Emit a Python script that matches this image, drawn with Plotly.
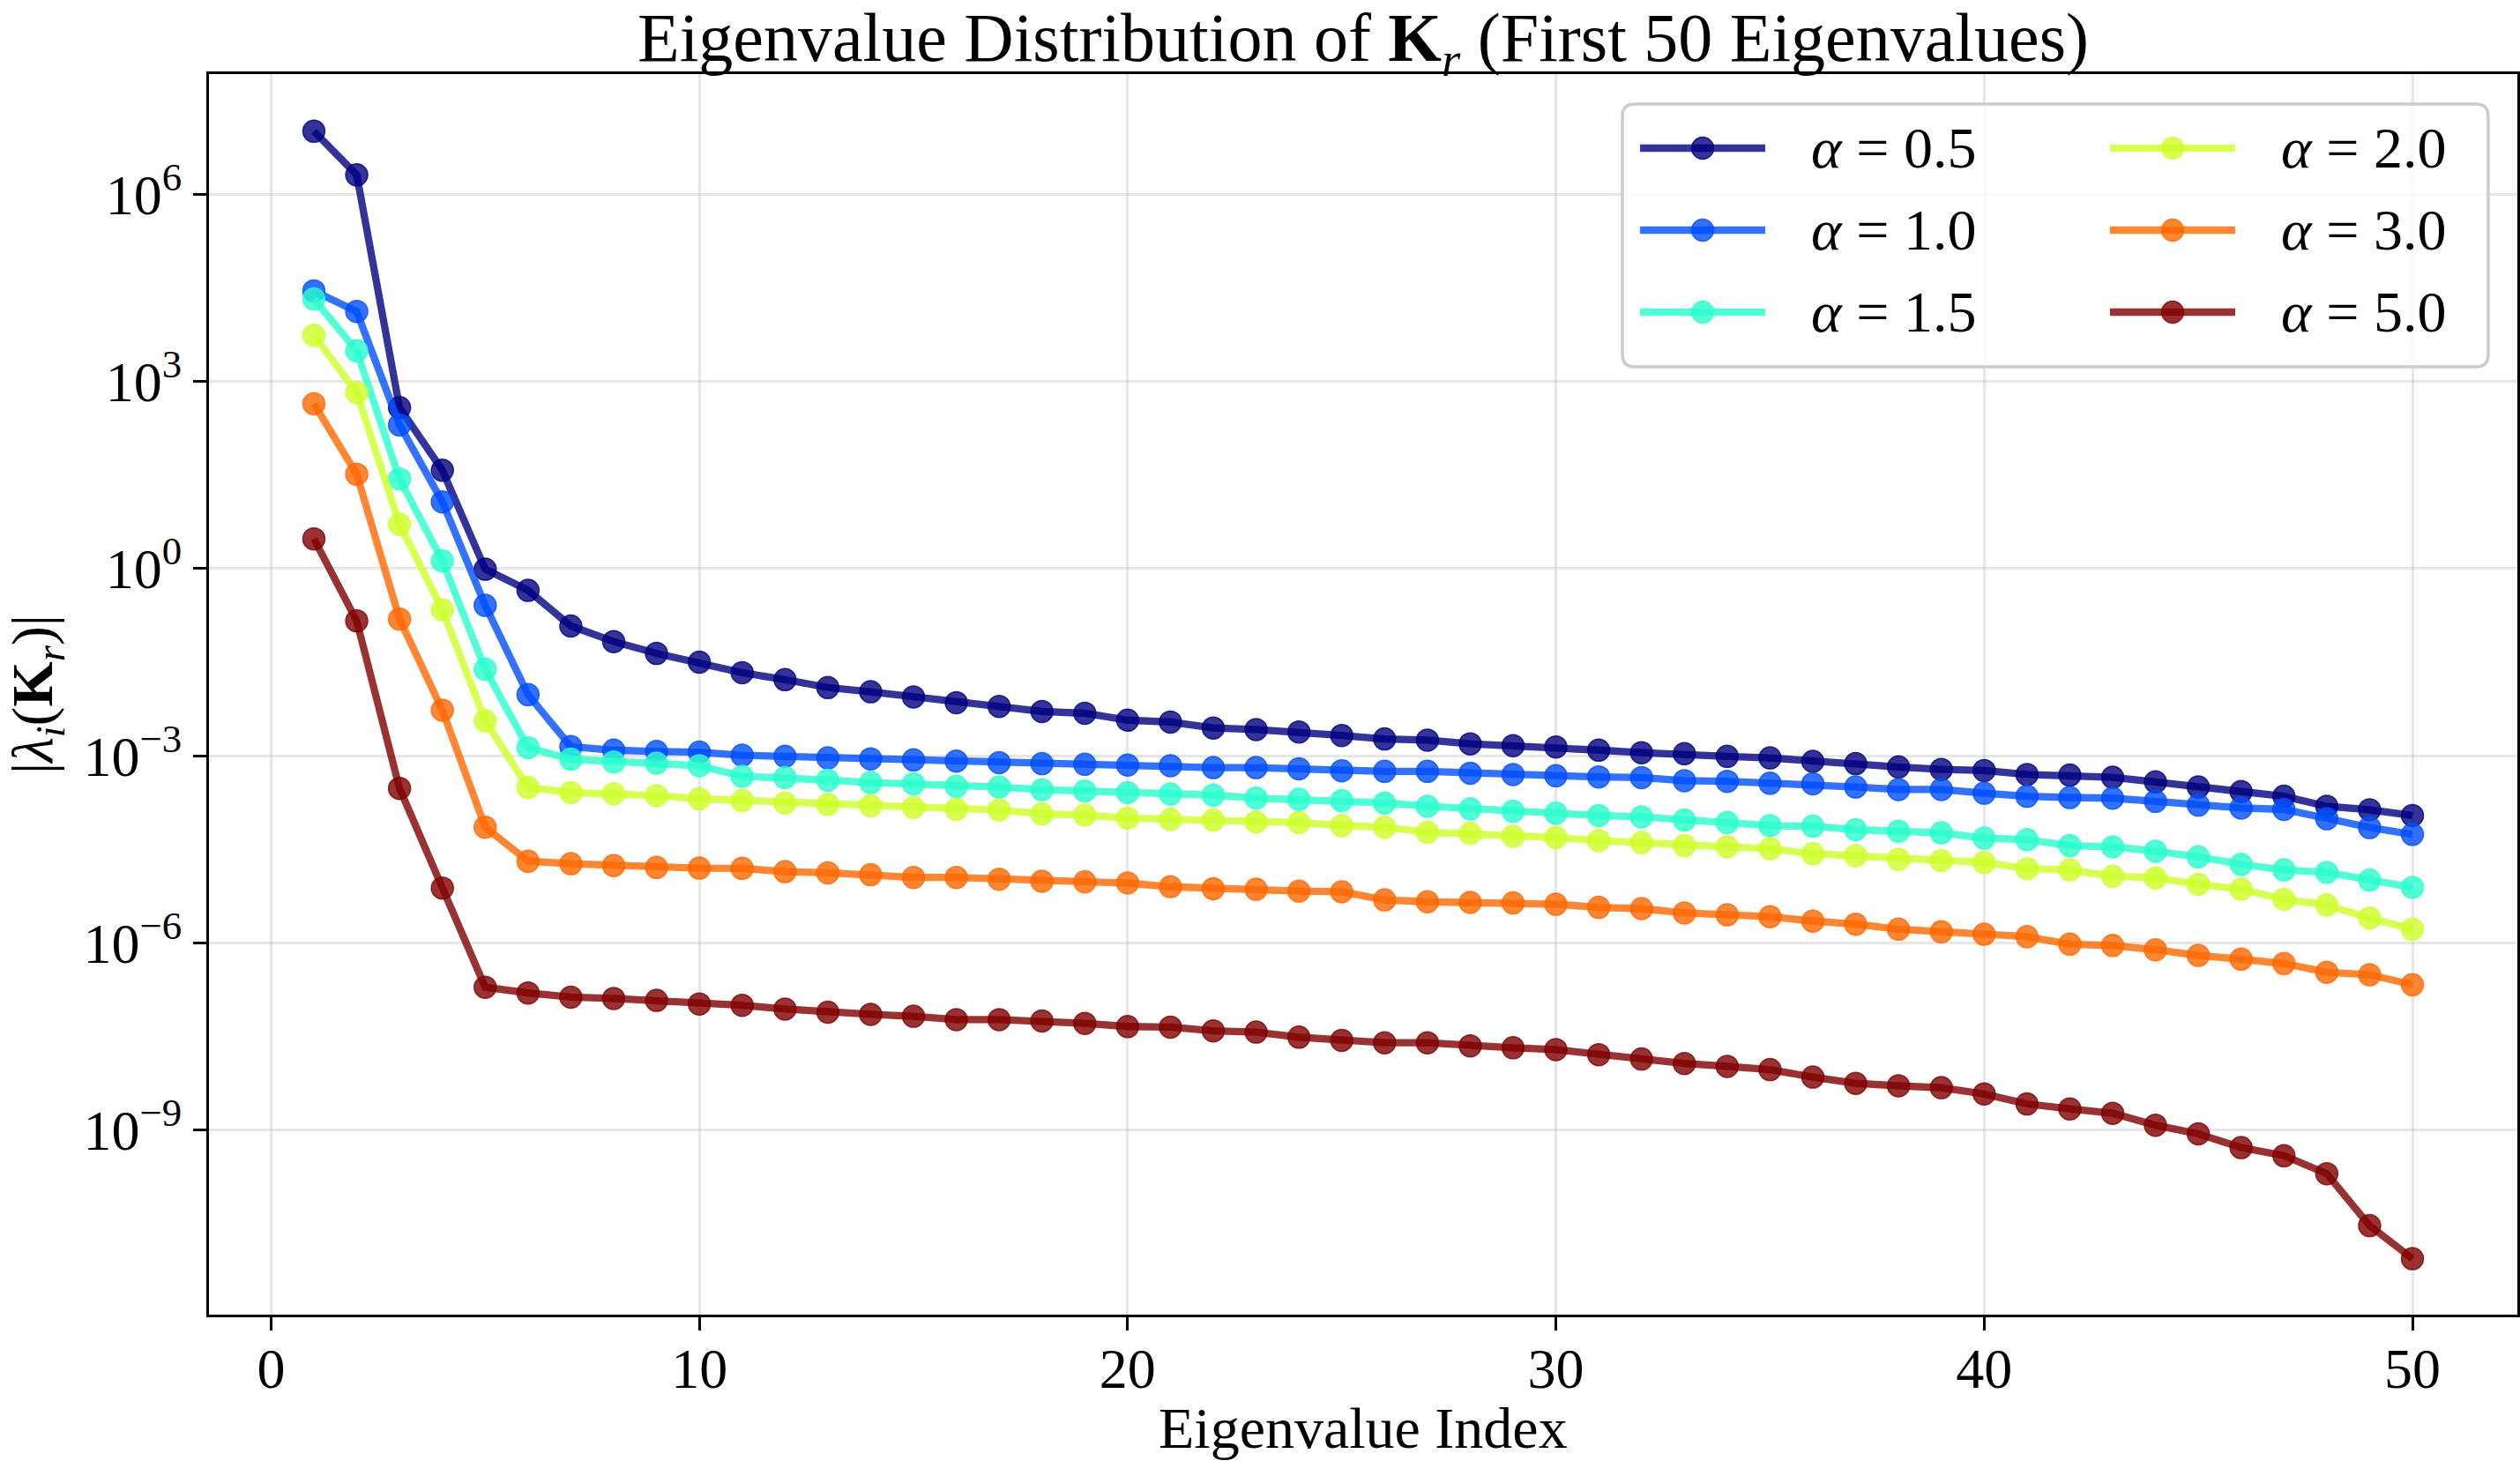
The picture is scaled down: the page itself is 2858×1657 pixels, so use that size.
import plotly.graph_objects as go

# ---------------- data ----------------
eig_index = list(range(1, 51))

alpha_labels = ["0.5", "1.0", "1.5", "2.0", "3.0", "5.0"]

eig_alpha_0_5 = [
    1.02e7, 2.04e6, 3.80e2, 3.76e1, 9.77e-1, 4.47e-1, 1.20e-1, 6.76e-2, 4.37e-2, 3.16e-2,
    2.14e-2, 1.66e-2, 1.24e-2, 1.06e-2, 8.77e-3, 7.08e-3, 6.17e-3, 5.13e-3, 4.79e-3, 3.72e-3,
    3.47e-3, 2.78e-3, 2.63e-3, 2.40e-3, 2.11e-3, 1.86e-3, 1.78e-3, 1.55e-3, 1.45e-3, 1.38e-3,
    1.23e-3, 1.12e-3, 1.08e-3, 9.77e-4, 9.23e-4, 8.13e-4, 7.48e-4, 6.61e-4, 6.03e-4, 5.79e-4,
    5.01e-4, 4.90e-4, 4.52e-4, 3.80e-4, 3.16e-4, 2.66e-4, 2.24e-4, 1.55e-4, 1.36e-4, 1.10e-4,
]
eig_alpha_1_0 = [
    2.82e4, 1.32e4, 2.00e2, 1.17e1, 2.57e-1, 9.55e-3, 1.40e-3, 1.23e-3, 1.17e-3, 1.14e-3,
    1.02e-3, 9.77e-4, 9.23e-4, 8.91e-4, 8.59e-4, 8.20e-4, 7.76e-4, 7.48e-4, 7.31e-4, 7.08e-4,
    6.92e-4, 6.46e-4, 6.46e-4, 6.17e-4, 5.75e-4, 5.62e-4, 5.62e-4, 5.25e-4, 5.01e-4, 4.79e-4,
    4.57e-4, 4.47e-4, 3.98e-4, 3.89e-4, 3.63e-4, 3.55e-4, 3.16e-4, 2.88e-4, 2.88e-4, 2.51e-4,
    2.24e-4, 2.14e-4, 2.09e-4, 1.86e-4, 1.62e-4, 1.45e-4, 1.38e-4, 9.77e-5, 7.08e-5, 5.50e-5,
]
eig_alpha_1_5 = [
    2.09e4, 3.09e3, 2.73e1, 1.33e0, 2.43e-2, 1.35e-3, 8.79e-4, 7.94e-4, 7.59e-4, 6.92e-4,
    4.68e-4, 4.47e-4, 4.07e-4, 3.72e-4, 3.55e-4, 3.24e-4, 3.16e-4, 2.85e-4, 2.72e-4, 2.57e-4,
    2.43e-4, 2.34e-4, 2.09e-4, 2.00e-4, 1.91e-4, 1.75e-4, 1.55e-4, 1.41e-4, 1.29e-4, 1.20e-4,
    1.10e-4, 1.05e-4, 9.33e-5, 8.51e-5, 7.59e-5, 7.41e-5, 6.53e-5, 6.17e-5, 5.82e-5, 4.79e-5,
    4.52e-5, 3.63e-5, 3.47e-5, 2.95e-5, 2.40e-5, 1.82e-5, 1.48e-5, 1.35e-5, 1.02e-5, 7.76e-6,
]
eig_alpha_2_0 = [
    5.50e3, 6.61e2, 5.13e0, 2.19e-1, 3.63e-3, 3.09e-4, 2.57e-4, 2.45e-4, 2.29e-4, 2.04e-4,
    1.92e-4, 1.75e-4, 1.66e-4, 1.58e-4, 1.48e-4, 1.39e-4, 1.35e-4, 1.17e-4, 1.12e-4, 1.00e-4,
    9.55e-5, 9.33e-5, 8.71e-5, 8.51e-5, 7.59e-5, 7.16e-5, 5.96e-5, 5.69e-5, 5.13e-5, 4.90e-5,
    4.37e-5, 4.07e-5, 3.63e-5, 3.47e-5, 3.24e-5, 2.69e-5, 2.51e-5, 2.19e-5, 2.09e-5, 1.95e-5,
    1.55e-5, 1.48e-5, 1.17e-5, 1.10e-5, 8.71e-6, 7.24e-6, 5.01e-6, 4.07e-6, 2.51e-6, 1.66e-6,
]
eig_alpha_3_0 = [
    4.37e2, 3.24e1, 1.55e-1, 5.37e-3, 7.16e-5, 2.04e-5, 1.86e-5, 1.74e-5, 1.62e-5, 1.58e-5,
    1.57e-5, 1.39e-5, 1.33e-5, 1.24e-5, 1.12e-5, 1.12e-5, 1.05e-5, 9.77e-6, 9.55e-6, 9.12e-6,
    7.94e-6, 7.41e-6, 7.24e-6, 6.76e-6, 6.61e-6, 4.90e-6, 4.57e-6, 4.47e-6, 4.37e-6, 4.17e-6,
    3.72e-6, 3.55e-6, 3.02e-6, 2.82e-6, 2.63e-6, 2.24e-6, 2.00e-6, 1.66e-6, 1.51e-6, 1.38e-6,
    1.26e-6, 9.55e-7, 9.12e-7, 7.76e-7, 6.31e-7, 5.50e-7, 4.68e-7, 3.39e-7, 3.09e-7, 2.14e-7,
]
eig_alpha_5_0 = [
    2.99e0, 1.45e-1, 2.99e-4, 7.59e-6, 1.95e-7, 1.58e-7, 1.35e-7, 1.29e-7, 1.20e-7, 1.05e-7,
    1.00e-7, 8.71e-8, 7.76e-8, 7.16e-8, 6.68e-8, 5.89e-8, 5.89e-8, 5.62e-8, 5.13e-8, 4.57e-8,
    4.47e-8, 3.89e-8, 3.72e-8, 3.09e-8, 2.75e-8, 2.51e-8, 2.51e-8, 2.24e-8, 2.09e-8, 1.95e-8,
    1.62e-8, 1.38e-8, 1.17e-8, 1.05e-8, 9.33e-9, 7.08e-9, 5.62e-9, 5.13e-9, 4.79e-9, 3.80e-9,
    2.63e-9, 2.19e-9, 1.86e-9, 1.20e-9, 8.71e-10, 5.25e-10, 3.89e-10, 2.00e-10, 2.95e-11, 8.71e-12,
]

series_values = [eig_alpha_0_5, eig_alpha_1_0, eig_alpha_1_5,
                 eig_alpha_2_0, eig_alpha_3_0, eig_alpha_5_0]

x_tick_vals = [0, 10, 20, 30, 40, 50]
y_tick_vals = [1e6, 1e3, 1e0, 1e-3, 1e-6, 1e-9]
y_tick_text = ["10<sup>6</sup>", "10<sup>3</sup>", "10<sup>0</sup>",
               "10<sup>\u22123</sup>", "10<sup>\u22126</sup>", "10<sup>\u22129</sup>"]

# ---------------- styles ----------------
series_rgb = [(0, 0, 128), (0, 77, 255), (41, 255, 206),
              (206, 255, 41), (255, 104, 0), (128, 0, 0)]
ALPHA = 0.8
LINE_W = 8.3
MARKER_D = 25
FONT = "Liberation Serif"

W, H = 2858, 1657
PL, PR, PT, PB = 237, 2855, 84, 1491   # plot area in pixels


def rgba(c, a=ALPHA):
    return "rgba(%d,%d,%d,%.2f)" % (c[0], c[1], c[2], a)


def pxx(px):
    return (px - PL) / (PR - PL)


def pxy(py):
    return (PB - py) / (PB - PT)


fig = go.Figure()
for lab, vals, col in zip(alpha_labels, series_values, series_rgb):
    fig.add_trace(go.Scatter(
        x=eig_index, y=vals, mode="lines+markers",
        name="\u03b1 = " + lab,
        line=dict(color=rgba(col), width=LINE_W),
        marker=dict(size=MARKER_D, color=rgba(col),
                    line=dict(color=rgba(col), width=1.5)),
        showlegend=False,
    ))

# ---------------- custom legend (2 columns, 3 rows) ----------------
shapes = []
annotations = []
lx0, lx1, ly0, ly1, rad = 1840, 2822, 118, 416, 14
rx, ry = rad / (PR - PL), rad / (PB - PT)
X0, X1, Y0, Y1 = pxx(lx0), pxx(lx1), pxy(ly1), pxy(ly0)
path = (f"M {X0+rx},{Y0} L {X1-rx},{Y0} Q {X1},{Y0} {X1},{Y0+ry} "
        f"L {X1},{Y1-ry} Q {X1},{Y1} {X1-rx},{Y1} "
        f"L {X0+rx},{Y1} Q {X0},{Y1} {X0},{Y1-ry} "
        f"L {X0},{Y0+ry} Q {X0},{Y0} {X0+rx},{Y0} Z")
shapes.append(dict(type="path", path=path, xref="paper", yref="paper",
                   fillcolor="rgba(255,255,255,0.8)",
                   line=dict(color="rgb(204,204,204)", width=3.5), layer="above"))

row_y = [168, 261, 354]
col_line_x = [1860, 2393]
line_len = 142
col_text_x = [2052, 2585]
for i, (lab, col) in enumerate(zip(alpha_labels, series_rgb)):
    c, r = i // 3, i % 3
    yy = pxy(row_y[r])
    xa, xb = col_line_x[c], col_line_x[c] + line_len
    shapes.append(dict(type="line", xref="paper", yref="paper",
                       x0=pxx(xa), x1=pxx(xb), y0=yy, y1=yy,
                       line=dict(color=rgba(col), width=LINE_W), layer="above"))
    shapes.append(dict(type="circle", xref="paper", yref="paper",
                       xsizemode="pixel", ysizemode="pixel",
                       xanchor=pxx((xa + xb) / 2), yanchor=yy,
                       x0=-MARKER_D / 2, x1=MARKER_D / 2,
                       y0=-MARKER_D / 2, y1=MARKER_D / 2,
                       fillcolor=rgba(col), line=dict(color=rgba(col), width=1.5),
                       layer="above"))
    annotations.append(dict(text="<i>\u03b1</i> = " + lab, xref="paper", yref="paper",
                            x=pxx(col_text_x[c]), y=yy, xanchor="left", yanchor="middle",
                            showarrow=False, font=dict(size=66, family=FONT, color="black")))

# x-axis title, placed just above the bottom edge of the figure
annotations.append(dict(text="Eigenvalue Index", xref="paper", yref="paper",
                        x=0.5, y=pxy(H), xanchor="center", yanchor="bottom",
                        showarrow=False, borderpad=0,
                        font=dict(size=66, family=FONT, color="black")))

axis_common = dict(
    showline=True, mirror=True, linecolor="black", linewidth=3.3,
    ticks="outside", ticklen=15, tickwidth=3.3, tickcolor="black",
    showgrid=True, gridcolor="rgba(176,176,176,0.3)", gridwidth=3.3,
    zeroline=False, tickfont=dict(size=64, family=FONT, color="black"),
)

fig.update_layout(
    width=W, height=H,
    margin=dict(l=PL, r=W - PR, t=PT, b=H - PB, autoexpand=False),
    paper_bgcolor="white", plot_bgcolor="white",
    font=dict(family=FONT, color="black", size=64),
    showlegend=False,
    title=dict(text="Eigenvalue Distribution of <b>K</b><sub><i>r</i></sub> (First 50 Eigenvalues)",
               x=0.5, xref="paper", xanchor="center",
               y=1 - 42 / H, yref="container", yanchor="middle",
               font=dict(size=78, family=FONT, color="black")),
    xaxis=dict(range=[-1.45, 52.45], tickvals=x_tick_vals, ticklabelstandoff=-12,
               **axis_common),
    yaxis=dict(type="log", range=[-11.957, 7.925], tickvals=y_tick_vals, ticktext=y_tick_text,
               title=dict(text="|<i>\u03bb</i><sub><i>i</i></sub>(<b>K</b><sub><i>r</i></sub>)|",
                          standoff=14, font=dict(size=66, family=FONT, color="black")),
               **axis_common),
    shapes=shapes,
    annotations=annotations,
)

fig.write_html("out.html")
